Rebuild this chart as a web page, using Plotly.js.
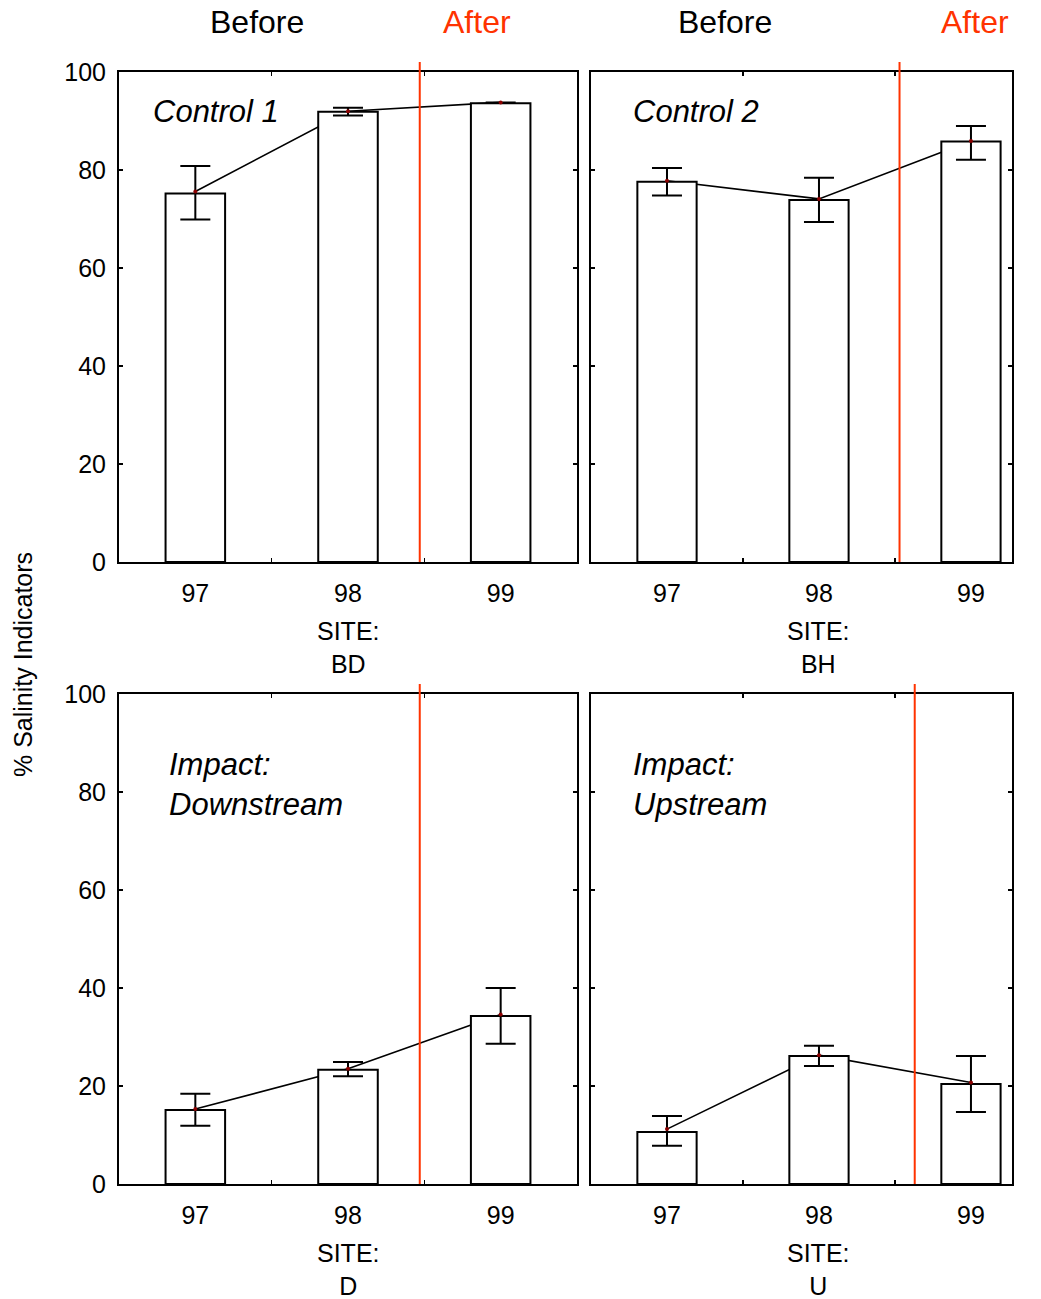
<!DOCTYPE html>
<html><head><meta charset="utf-8">
<script src="https://cdn.plot.ly/plotly-3.0.1.min.js"></script>
<style>html,body{margin:0;padding:0;background:#fff}#chart{width:1041px;height:1299px}</style>
</head><body><div id="chart"></div>
<script>
// ---- data ----
const years = [97, 98, 99];
const panelLabels = ['Control 1', 'Control 2', 'Impact:<br>Downstream', 'Impact:<br>Upstream'];
const sites = ['BD', 'BH', 'D', 'U'];
const periodLabels = ['Before', 'After'];
const yTicks = [0, 20, 40, 60, 80, 100];
const yTitle = '% Salinity Indicators';

const barBD = [75.2, 91.9, 93.6];
const meanBD = [75.6, 92.0, 93.8];
const upperBD = [80.8, 92.7, null];
const lowerBD = [69.9, 91.1, null];

const barBH = [77.6, 73.9, 85.8];
const meanBH = [77.8, 74.1, 85.9];
const upperBH = [80.4, 78.4, 89.0];
const lowerBH = [74.8, 69.4, 82.1];

const barD = [15.1, 23.3, 34.3];
const meanD = [15.3, 23.5, 34.6];
const upperD = [18.4, 24.9, 40.0];
const lowerD = [11.9, 22.0, 28.6];

const barU = [10.6, 26.1, 20.4];
const meanU = [11.2, 26.3, 20.7];
const upperU = [13.9, 28.2, 26.1];
const lowerU = [7.8, 24.1, 14.7];

// year at which the "after" period begins (red divider) in each panel
const impactStart = [98.47, 98.53, 98.47, 98.63];

// ---- layout helpers ----
const W = 1041, H = 1299;
const px = p => p / W;
const py = p => 1 - p / H;
const FONT = 'Liberation Sans, Arial, Helvetica, sans-serif';
const RED = '#ff3300';

const series = [
  {bar: barBD, mean: meanBD, up: upperBD, lo: lowerBD},
  {bar: barBH, mean: meanBH, up: upperBH, lo: lowerBH},
  {bar: barD, mean: meanD, up: upperD, lo: lowerD},
  {bar: barU, mean: meanU, up: upperU, lo: lowerU}
];
const boxes = [
  {x0: 119, x1: 577, y0: 72, y1: 562, xr: [96.5, 99.5], left: true},
  {x0: 591, x1: 1012, y0: 72, y1: 562, xr: [96.5, 99.27], left: false},
  {x0: 119, x1: 577, y0: 694, y1: 1184, xr: [96.5, 99.5], left: true},
  {x0: 591, x1: 1012, y0: 694, y1: 1184, xr: [96.5, 99.27], left: false}
];

const data = [];
const layout = {
  width: W, height: H,
  margin: {l: 0, r: 0, t: 0, b: 0},
  paper_bgcolor: '#fff', plot_bgcolor: 'rgba(0,0,0,0)',
  showlegend: false,
  font: {family: FONT, color: '#000', size: 25},
  shapes: [], annotations: []
};

boxes.forEach((b, i) => {
  const n = i + 1, m = i + 5;
  const s = series[i];
  const ax = n === 1 ? '' : String(n);
  // connecting line (base layer, under the bars)
  data.push({type: 'scatter', mode: 'lines', x: years, y: s.mean,
    xaxis: 'x' + ax, yaxis: 'y' + ax, line: {color: '#000', width: 1.6},
    hoverinfo: 'skip'});
  // bars (overlay layer)
  data.push({type: 'bar', x: years, y: s.bar, width: 0.39,
    xaxis: 'x' + m, yaxis: 'y' + m,
    marker: {color: '#fff', line: {color: '#000', width: 2}}, hoverinfo: 'skip'});
  // means with error bars
  const errUp = s.up.map((u, k) => u == null ? null : +(u - s.mean[k]).toFixed(2));
  const errLo = s.lo.map((l, k) => l == null ? null : +(s.mean[k] - l).toFixed(2));
  data.push({type: 'scatter', mode: 'markers', x: years, y: s.mean,
    xaxis: 'x' + m, yaxis: 'y' + m,
    marker: {color: '#8b0000', size: 4},
    error_y: {type: 'data', symmetric: false, array: errUp, arrayminus: errLo,
      color: '#000', thickness: 2, width: 15},
    hoverinfo: 'skip'});

  const dom = {x: [px(b.x0), px(b.x1)], y: [py(b.y1), py(b.y0)]};
  layout['xaxis' + ax] = {
    domain: dom.x, range: b.xr, anchor: 'y' + ax,
    tickvals: [97.5, 98.5], showticklabels: false,
    ticks: 'inside', ticklen: 4, tickwidth: 1.5, tickcolor: '#000',
    showline: true, linewidth: 2, linecolor: '#000', mirror: 'ticks',
    showgrid: false, zeroline: false, fixedrange: true
  };
  layout['yaxis' + ax] = {
    domain: dom.y, range: [0, 100], anchor: 'x' + ax,
    tickvals: yTicks, showticklabels: b.left,
    tickfont: {size: 25, family: FONT, color: '#000'}, ticklabelstandoff: 6,
    ticks: 'inside', ticklen: 4, tickwidth: 1.5, tickcolor: '#000',
    showline: true, linewidth: 2, linecolor: '#000', mirror: 'ticks',
    showgrid: false, zeroline: false, fixedrange: true
  };
  layout['xaxis' + m] = {
    overlaying: 'x' + ax, range: b.xr, anchor: 'y' + m,
    tickvals: years, ticktext: years.map(String), ticks: '',
    tickfont: {size: 25, family: FONT, color: '#000'}, ticklabelstandoff: 14,
    showline: false, showgrid: false, zeroline: false, fixedrange: true
  };
  layout['yaxis' + m] = {
    overlaying: 'y' + ax, range: [0, 100], anchor: 'x' + m,
    visible: false, showgrid: false, zeroline: false, fixedrange: true
  };

  // red divider between before / after
  layout.shapes.push({type: 'line', xref: 'x' + ax, yref: 'paper',
    x0: impactStart[i], x1: impactStart[i], y0: py(b.y1), y1: py(b.y0 - 10),
    line: {color: RED, width: 2}, layer: 'above'});

  // panel label
  const two = panelLabels[i].indexOf('<br>') >= 0;
  layout.annotations.push({xref: 'paper', yref: 'paper',
    x: px(b.left ? (two ? 167 : 151) : 631), y: py(two ? 785 : b.y0 + 39),
    xanchor: 'left', yanchor: 'middle', align: 'left', showarrow: false,
    text: '<i>' + panelLabels[i] + '</i>', font: {size: 31, family: FONT}});

  // site label under axis
  layout.annotations.push({xref: 'x' + m, yref: 'paper',
    x: years[1], y: py(b.y1 + 85), xanchor: 'center', yanchor: 'middle',
    showarrow: false, text: 'SITE:<br>' + sites[i], font: {size: 25, family: FONT}});
});

// Before / After headers
[[257, 0], [477, 1], [725, 0], [975, 1]].forEach(([cx, k]) => {
  layout.annotations.push({xref: 'paper', yref: 'paper', x: px(cx), y: py(22),
    xanchor: 'center', yanchor: 'middle', showarrow: false,
    text: periodLabels[k], font: {size: 32, family: FONT, color: k ? RED : '#000'}});
});

// shared y title
layout.annotations.push({xref: 'paper', yref: 'paper', x: px(23), y: py(665),
  xanchor: 'center', yanchor: 'middle', textangle: -90, showarrow: false,
  text: yTitle, font: {size: 25, family: FONT}});

Plotly.newPlot('chart', data, layout, {displayModeBar: false, staticPlot: true});
</script>
</body></html>
